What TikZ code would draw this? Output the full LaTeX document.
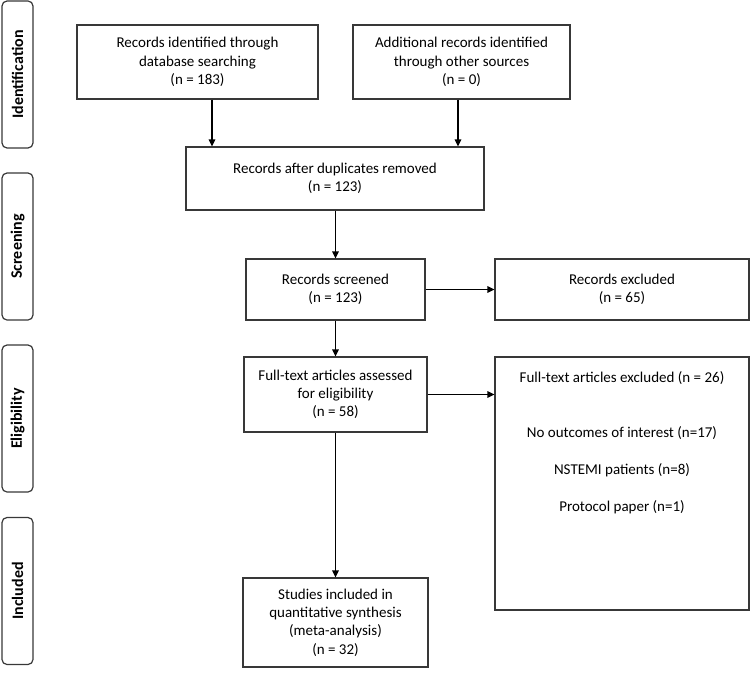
\documentclass[tikz,border=0pt]{standalone}
\usepackage{fontspec}
\setmainfont{Carlito}
\usetikzlibrary{arrows.meta}
\tikzset{
  box/.style={draw=black!78, line width=1.2bp, fill=white, align=center, inner sep=2bp,
    font=\fontsize{15bp}{18.3bp}\selectfont},
  sidebox/.style={draw=black!78, line width=1.2bp, rounded corners=5bp, rotate=90,
    minimum width=147bp, minimum height=31bp, inner sep=0pt,
    font=\fontsize{16bp}{19bp}\selectfont\bfseries},
  plain/.style={align=center, inner sep=0pt, font=\fontsize{15bp}{18.3bp}\selectfont},
  arr/.style={line width=1.3bp, draw=black, -{Triangle[length=7bp,width=6.5bp]}}
}
\begin{document}
\begin{tikzpicture}[x=1bp,y=-1bp]
\useasboundingbox (0,0) rectangle (750,678);
% side labels
\node[sidebox] (sid) at (17.5,74.5) {Identification};
\node[sidebox] (sscr) at (17.5,246.5) {Screening};
\node[sidebox] (sel) at (17.5,418.5) {Eligibility};
\node[sidebox] (sinc) at (17.5,591) {Included};
% boxes
\node[box, minimum width=241bp, minimum height=74bp] (db) at (197.5,62)
  {Records identified through\\database searching\\(n = 183)};
\node[box, minimum width=217bp, minimum height=74bp] (other) at (461.5,62)
  {Additional records identified\\through other sources\\(n = 0)};
\node[box, minimum width=298bp, minimum height=63bp] (dup) at (335,178.5)
  {Records after duplicates removed\\(n = 123)};
\node[box, minimum width=179bp, minimum height=61bp] (scr) at (335.5,289.5)
  {Records screened\\(n = 123)};
\node[box, minimum width=254bp, minimum height=61bp] (exc) at (622,289.5)
  {Records excluded\\(n = 65)};
\node[box, minimum width=183bp, minimum height=75bp] (full) at (335.5,394.5)
  {Full-text articles assessed\\for eligibility\\(n = 58)};
\node[box, minimum width=254bp, minimum height=253bp] (fexc) at (622,483.5) {};
\node[plain] (fexct) at (622,442.5)
  {Full-text articles excluded (n = 26)\\[36.7bp]No outcomes of interest (n=17)\\[18.7bp]NSTEMI patients (n=8)\\[18.7bp]Protocol paper (n=1)};
\node[box, minimum width=185bp, minimum height=89bp] (inc) at (335.5,622.5)
  {Studies included in\\quantitative synthesis\\(meta-analysis)\\(n = 32)};
% connectors
\draw[arr] ([xshift=14.5bp]db.south) -- ([xshift=14.5bp]db.south |- dup.north);
\draw[arr] ([xshift=-3.5bp]other.south) -- ([xshift=-3.5bp]other.south |- dup.north);
\draw[arr] (dup.south -| scr.north) -- (scr.north);
\draw[arr] (scr.east) -- (exc.west);
\draw[arr] (scr.south) -- (full.north);
\draw[arr] (full.east) -- (full.east -| fexc.west);
\draw[arr] (full.south) -- (inc.north);
\end{tikzpicture}
\end{document}
